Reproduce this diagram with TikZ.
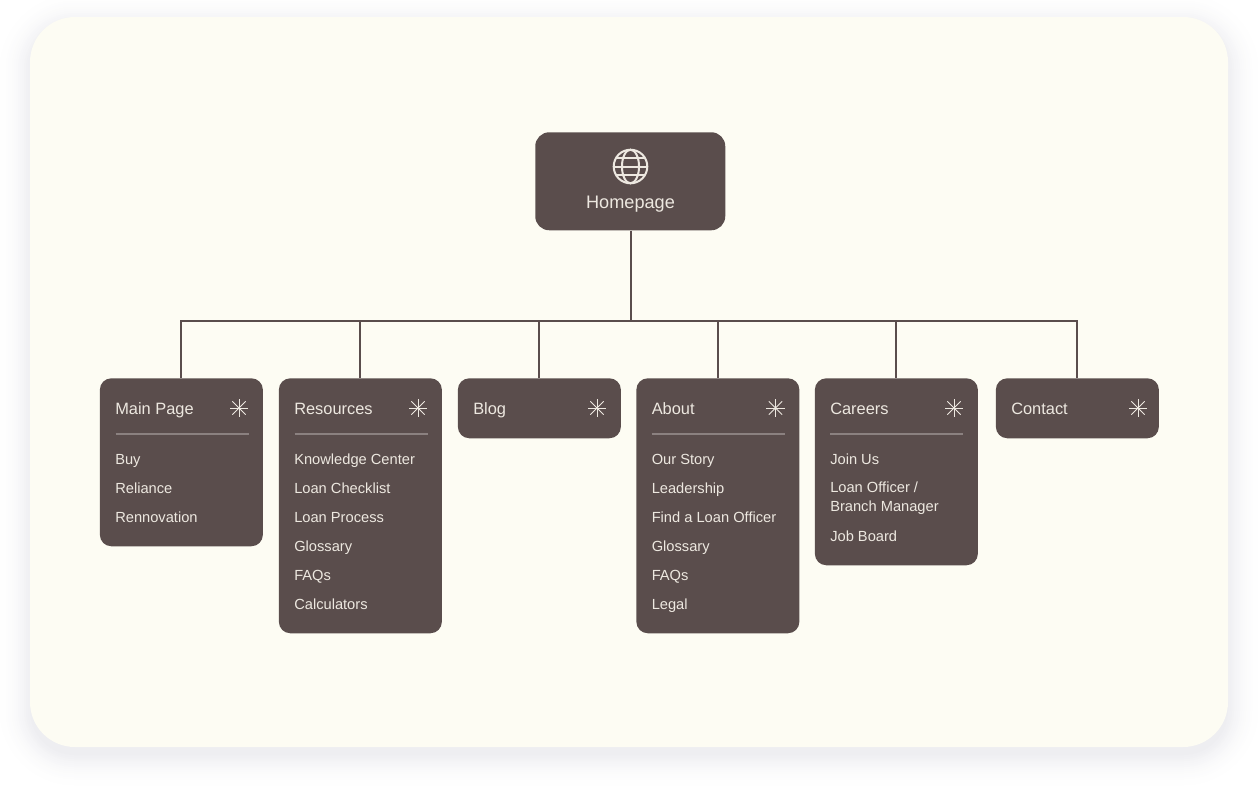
\documentclass[tikz,border=0pt]{standalone}
\usepackage{fontspec}
\usetikzlibrary{calc}
\setmainfont{Liberation Sans}
\definecolor{boxc}{HTML}{5A4D4C}
\definecolor{cardc}{HTML}{FDFCF3}
\definecolor{txtc}{HTML}{EDE8E0}
\definecolor{divc}{HTML}{8B8180}
\definecolor{shadowc}{HTML}{EEEEF1}
\tikzset{
 box/.style={fill=boxc,draw=none,rounded corners=11.5*0.75pt,anchor=north west,inner sep=0,minimum width=163*0.75pt},
 head/.style={anchor=base west,inner sep=0,text=txtc,font=\fontsize{12.3pt}{15pt}\selectfont},
 item/.style={anchor=base west,inner sep=0,text=txtc,font=\fontsize{11pt}{14pt}\selectfont},
 conn/.style={draw=boxc,line width=1.5pt},
 divider/.style={draw=divc,line width=1.5pt},
 icon/.style={draw=txtc,line width=0.6pt},
 pics/spark/.style={code={
   \foreach \a in {0,45,90,135,180,225,270,315} \draw[icon] (0,0) -- (\a:7.1pt);
 }}
}
\newcommand{\cardbox}[4]{% name, x, h, title
 \node[box,minimum height=#3*0.75pt] (#1) at (#2-0.4,378) {};
 \node[head] (#1t) at (#2+15,414) {#4};
 \path (#2+139,408) pic {spark};
}
\begin{document}
\begin{tikzpicture}[x=0.75pt,y=-0.75pt]
\useasboundingbox (0,0) rectangle (1258,790);
\fill[white] (0,0) rectangle (1258,790);
% soft shadow
\foreach \s in {36,34,...,0} {
  \pgfmathsetmacro{\p}{100*(1-\s/36)*(1-\s/36)}
  \fill[shadowc!\p!white,rounded corners=(45+\s)*0.75pt] (30-\s,17-\s+8) rectangle (1228+\s,747+\s+8);
}
\fill[cardc,rounded corners=45*0.75pt] (30,17) rectangle (1228,747);

% home
\node[box,minimum width=190*0.75pt,minimum height=98*0.75pt,rounded corners=14*0.75pt] (home) at (535,132) {};
\node[anchor=base,inner sep=0,text=txtc,font=\fontsize{13.6pt}{16pt}\selectfont] (homet) at (630.5,208) {Homepage};
\coordinate (glb) at (630.5,166.5);
\draw[icon,line width=1.5pt] (glb) circle (12.6pt);
\draw[icon,line width=1.5pt] (glb) ellipse (6.4pt and 12.6pt);
\draw[icon,line width=1.5pt] ($(glb)+(-12.6pt,0)$) -- ($(glb)+(12.6pt,0)$);
\draw[icon,line width=1.5pt] ($(glb)+(-10.9pt,6.2pt)$) -- ($(glb)+(10.9pt,6.2pt)$);
\draw[icon,line width=1.5pt] ($(glb)+(-10.9pt,-6.2pt)$) -- ($(glb)+(10.9pt,-6.2pt)$);

% cards
\cardbox{c1}{100}{168}{Main Page}
\cardbox{c2}{279}{255}{Resources}
\cardbox{c3}{458}{60}{Blog}
\cardbox{c4}{636.5}{255}{About}
\cardbox{c5}{815}{187}{Careers}
\node[box,minimum height=60*0.75pt] (c6) at (995.6,378) {};
\node[head] (c6t) at (1011,414) {Contact};
\path (1138,408) pic {spark};

% dividers
\foreach \x in {115.5,294.5,651.5,830} \draw[divider] (\x,434) -- (\x+133,434);

% items
\node[item] (a1) at (115,464) {Buy};
\node[item] (a2) at (115,493) {Reliance};
\node[item] (a3) at (115,522) {Rennovation};

\node[item] (b1) at (294,464) {Knowledge Center};
\node[item] (b2) at (294,493) {Loan Checklist};
\node[item] (b3) at (294,522) {Loan Process};
\node[item] (b4) at (294,551) {Glossary};
\node[item] (b5) at (294,580) {FAQs};
\node[item] (b6) at (294,609) {Calculators};

\node[item] (d1) at (651.5,464) {Our Story};
\node[item] (d2) at (651.5,493) {Leadership};
\node[item] (d3) at (651.5,522) {Find a Loan Officer};
\node[item] (d4) at (651.5,551) {Glossary};
\node[item] (d5) at (651.5,580) {FAQs};
\node[item] (d6) at (651.5,609) {Legal};

\node[item] (e1) at (830,464) {Join Us};
\node[item] (e2) at (830,492.5) {Loan Officer /};
\node[item] (e3) at (830,511.5) {Branch Manager};
\node[item] (e4) at (830,541) {Job Board};

% connectors
\coordinate (bus) at (630.5,320.6);
\draw[conn] (bus|-home.south) -- (bus);
\draw[conn] (c1.north) |- (bus);
\draw[conn] (c6.north) |- (bus);
\draw[conn] (c2.north) -- (c2.north|-bus);
\draw[conn] (c3.north) -- (c3.north|-bus);
\draw[conn] (c4.north) -- (c4.north|-bus);
\draw[conn] (c5.north) -- (c5.north|-bus);
\end{tikzpicture}
\end{document}
